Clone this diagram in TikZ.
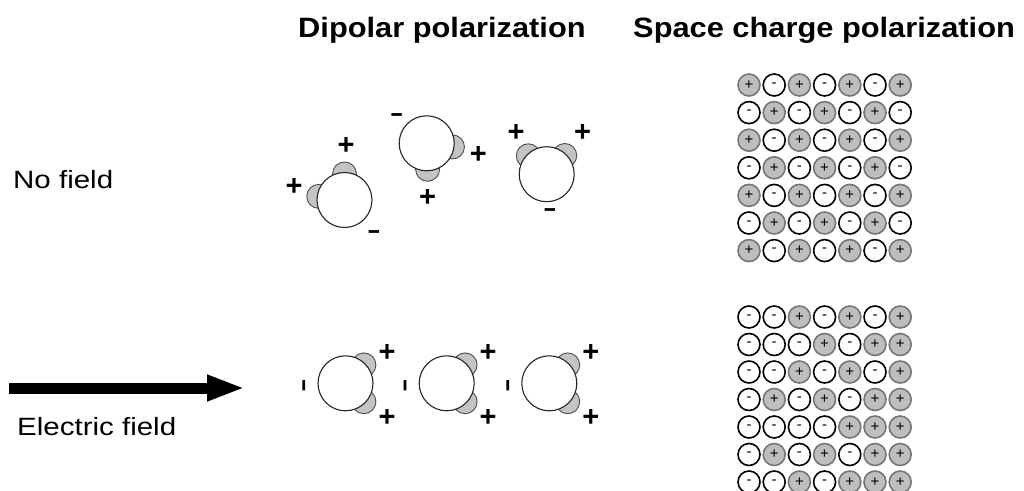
\documentclass[tikz,border=0pt]{standalone}
\usepackage{fontspec}
\setmainfont{Liberation Sans}
\newfontfamily\headfont{Liberation Sans}[FakeStretch=1.1]
\newfontfamily\rowfont{Liberation Sans}[FakeStretch=1.18]
\newfontfamily\dashfont{Liberation Sans}[FakeStretch=0.75]
\usetikzlibrary{arrows.meta}

\definecolor{ionfill}{HTML}{BEBEBE}
\definecolor{ionedge}{HTML}{767676}
\definecolor{bumpfill}{HTML}{C4C4C4}

\tikzset{
  heading/.style={anchor=base west, inner sep=0pt, font=\headfont\bfseries\fontsize{28}{30}\selectfont},
  rowlabel/.style={anchor=base west, inner sep=0pt, font=\rowfont\fontsize{25}{28}\selectfont},
  molecule/.style={circle, draw=black!85, line width=1.1pt, fill=white, minimum size=55pt, inner sep=0pt},
  bump/.style={draw=black!70, line width=0.9pt, fill=bumpfill},
  plussign/.style={inner sep=0pt, font=\bfseries\fontsize{29}{30}\selectfont, node contents={+}},
  minussign/.style={inner sep=0pt, font=\dashfont\bfseries\fontsize{28}{30}\selectfont, node contents={–}},
  ion/.style={circle, minimum size=22pt, inner sep=0pt, font=\fontsize{15}{15}\selectfont},
  ionp/.style={ion, fill=ionfill, draw=ionedge, line width=1.6pt, node contents={+}},
  ionm/.style={ion, fill=white, draw=black, line width=1.6pt, node contents={-}},
  field/.style={line width=11pt, -{Triangle[length=38pt,width=24pt]}},
}

% a water-like molecule: two charged lobes behind a neutral sphere
\newcommand\molecule[4]{% #1 name, #2 position, #3/#4 lobe angles (counter-clockwise)
  \coordinate (#1) at (#2);
  \draw[bump] (#1) ++({-#3}:26) circle[radius=12];
  \draw[bump] (#1) ++({-#4}:26) circle[radius=12];
  \node[molecule] (#1-body) at (#1) {};
}

% one row of ions in the space-charge lattice
\newcommand\chargerow[3]{% #1 name prefix, #2 row height, #3 signs
  \foreach \s [count=\c] in {#3} {\node (#1-\c) at ({749+25.2*(\c-1)},#2) [ion\s];}
}

\begin{document}
\begin{tikzpicture}[x=1pt, y=-1pt]
  \clip (0,0) rectangle (1024,490);

  % headings
  \node[heading] (dipolar) at (298,37) {Dipolar polarization};
  \node[heading] (space) at (633,37) {Space charge polarization};

  % row labels
  \node[rowlabel] (nofield) at (13,188) {No field};
  \node[rowlabel] (efield) at (17,435) {Electric field};

  % applied field
  \coordinate (fieldtail) at (9,388);
  \coordinate (fieldtip) at (245,388);
  \draw[field] (fieldtail) -- (fieldtip);

  % randomly oriented dipoles
  \molecule{d1}{344.5,200}{90}{172}
  \node (d1-p1) at (346,146) [plussign];
  \node (d1-p2) at (294,187) [plussign];
  \node (d1-n) at (374,235) [minussign];

  \molecule{d2}{426.7,143.3}{-8}{-88}
  \node (d2-n) at (396.7,118.3) [minussign];
  \node (d2-p1) at (478.3,155) [plussign];
  \node (d2-p2) at (427.7,198.3) [plussign];

  \molecule{d3}{546.7,174.2}{135}{46}
  \node (d3-p1) at (516,133.3) [plussign];
  \node (d3-p2) at (582.7,133.3) [plussign];
  \node (d3-n) at (550,213.3) [minussign];

  % dipoles aligned with the field
  \foreach \m/\x in {e1/345.5, e2/446.7, e3/549.3} {
    \molecule{\m}{\x,383.3}{45}{-45}
    \node (\m-p1) at (\x+41.5,353.3) [plussign];
    \node (\m-p2) at (\x+41.5,418.3) [plussign];
    \node (\m-n) at (\x-38.5,385.5) [rotate=90, minussign];
  }

  % space charge, no field
  \chargerow{a1}{85}{p,m,p,m,p,m,p}
  \chargerow{a2}{112.6}{m,p,m,p,m,p,m}
  \chargerow{a3}{140.2}{p,m,p,m,p,m,p}
  \chargerow{a4}{167.8}{m,p,m,p,m,p,m}
  \chargerow{a5}{195.4}{p,m,p,m,p,m,p}
  \chargerow{a6}{223}{m,p,m,p,m,p,m}
  \chargerow{a7}{250.6}{p,m,p,m,p,m,p}

  % space charge, with field
  \chargerow{b1}{317}{m,m,p,m,p,m,p}
  \chargerow{b2}{344.5}{m,m,m,p,m,p,p}
  \chargerow{b3}{372}{m,m,p,m,p,m,p}
  \chargerow{b4}{399.5}{m,p,m,p,m,p,p}
  \chargerow{b5}{427}{m,m,m,m,p,p,p}
  \chargerow{b6}{454.5}{m,p,m,p,m,p,p}
  \chargerow{b7}{482}{m,m,p,m,p,p,p}
\end{tikzpicture}
\end{document}
